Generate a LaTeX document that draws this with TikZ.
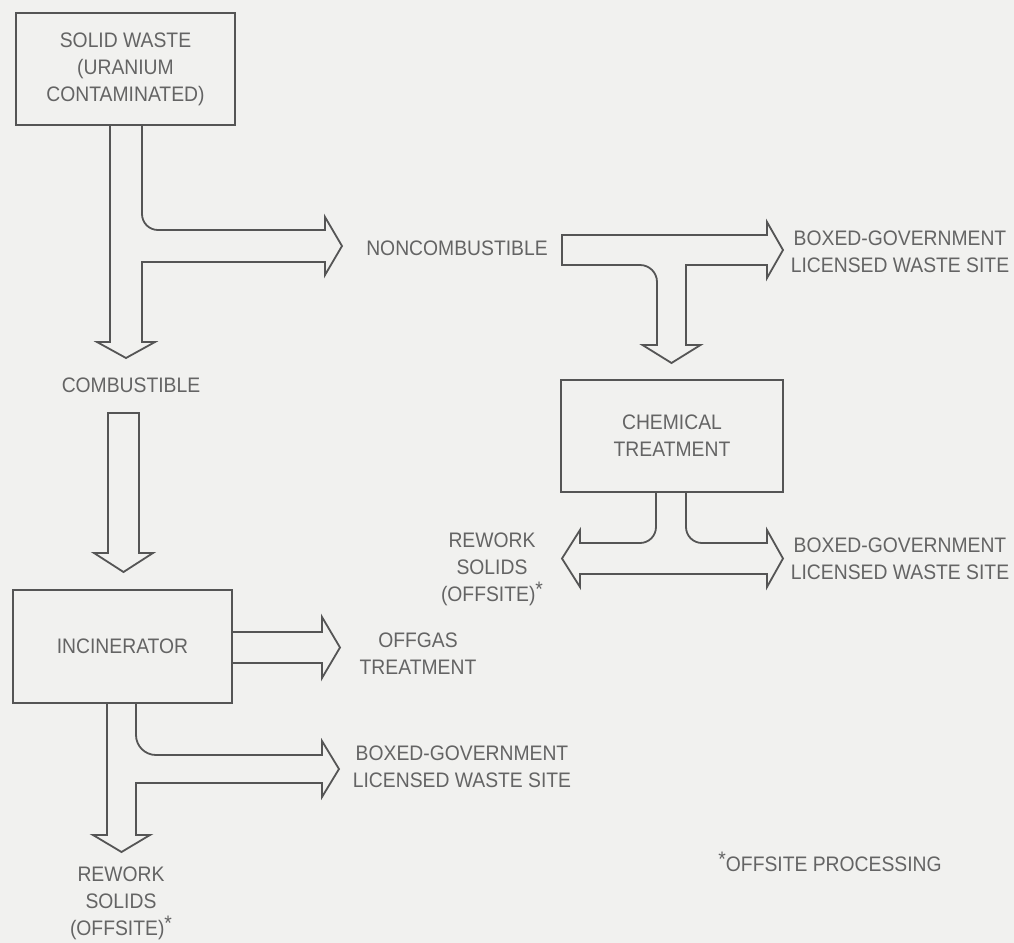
\documentclass[tikz,border=0pt]{standalone}
\usepackage{fontspec}
\setmainfont{Liberation Sans}[FakeStretch=0.92]
\usepackage{xcolor}
\usepackage{tikz}
\usetikzlibrary{calc}

\definecolor{paper}{RGB}{241,241,239}
\definecolor{ink}{RGB}{85,85,85}
\definecolor{lettering}{RGB}{100,100,100}

\newcommand{\fnmark}{\raisebox{0.45ex}{*}}

\begin{document}
\begin{tikzpicture}[
        x=0.5pt, y=-0.5pt,
        every node/.style = {text=lettering, font=\fontsize{10.5}{13.5}\selectfont, align=center, inner sep=0pt},
        box/.style = {draw=ink, line width=0.9pt, rectangle, minimum width=109.5pt, minimum height=56pt},
        blockarrow/.style = {draw=ink, line width=0.9pt, line join=miter}
    ]

    % page
    \useasboundingbox (0,0) rectangle (1014,943);
    \fill[paper] (0,0) rectangle (1014,943);

    % boxes
    \node[box] (waste) at (125.5,69) {SOLID WASTE\\(URANIUM\\CONTAMINATED)};
    \node[box, minimum width=111pt] (chem) at (672,436) {CHEMICAL\\TREATMENT};
    \node[box, minimum height=56.5pt] (incin) at (122.5,646.5) {INCINERATOR};

    % stream labels
    \node (comb) at (131,385) {COMBUSTIBLE};
    \node (noncomb) at (457,248) {NONCOMBUSTIBLE};
    \node (boxedA) at (900,251.5) {BOXED-GOVERNMENT\\LICENSED WASTE SITE};
    \node (reworkA) at (492,569) {REWORK\\SOLIDS\\(OFFSITE)\fnmark};
    \node (boxedB) at (900,558.5) {BOXED-GOVERNMENT\\LICENSED WASTE SITE};
    \node (offgas) at (418,653.5) {OFFGAS\\TREATMENT};
    \node (boxedC) at (462,767) {BOXED-GOVERNMENT\\LICENSED WASTE SITE};
    \node (reworkB) at (121,903) {REWORK\\SOLIDS\\(OFFSITE)\fnmark};
    \node[anchor=west] (note) at (718,862) {\fnmark OFFSITE PROCESSING};

    % waste splits into combustible and noncombustible
    \draw[blockarrow] (110,0 |- waste.south) -- (110,342) -- (97,342) -- (126,358) -- (155,342)
        -- (142,342) -- (142,262) -- (325,262) -- (325,275) -- (342,246) -- (325,217)
        -- (325,230) -- (158,230) to[out=180,in=270] (142,214) -- (142,0 |- waste.south);

    % combustible to incinerator
    \draw[blockarrow] (108,413) -- (108,553) -- (94,553) -- (123.5,572) -- (153,553)
        -- (139,553) -- (139,413) -- cycle;

    % noncombustible to boxed site and chemical treatment
    \draw[blockarrow] (562,235) -- (767,235) -- (767,222) -- (783,250) -- (767,278)
        -- (767,265) -- (686,265) -- (686,345) -- (700.5,345) -- (671.5,363) -- (642.5,345)
        -- (657,345) -- (657,282) to[out=90,in=0] (640,265) -- (562,265) -- cycle;

    % chemical treatment outputs
    \draw[blockarrow] (656,0 |- chem.south) -- (656,527) to[out=270,in=0] (640,543)
        -- (580,543) -- (580,530) -- (562,558.5) -- (580,587) -- (580,574) -- (767,574)
        -- (767,587) -- (783,558.5) -- (767,530) -- (767,543) -- (702,543)
        to[out=180,in=270] (686,527) -- (686,0 |- chem.south);

    % incinerator offgas
    \draw[blockarrow] (incin.east |- 0,632) -- (322,632) -- (322,617) -- (340,647.5)
        -- (322,678) -- (322,663) -- (incin.east |- 0,663);

    % incinerator residue
    \draw[blockarrow] (107,0 |- incin.south) -- (107,835) -- (93,835) -- (121.5,852) -- (150,835)
        -- (136,835) -- (136,783) -- (322,783) -- (322,797) -- (339,769) -- (322,741)
        -- (322,755) -- (156,755) to[out=180,in=270] (136,735) -- (136,0 |- incin.south);

\end{tikzpicture}
\end{document}
